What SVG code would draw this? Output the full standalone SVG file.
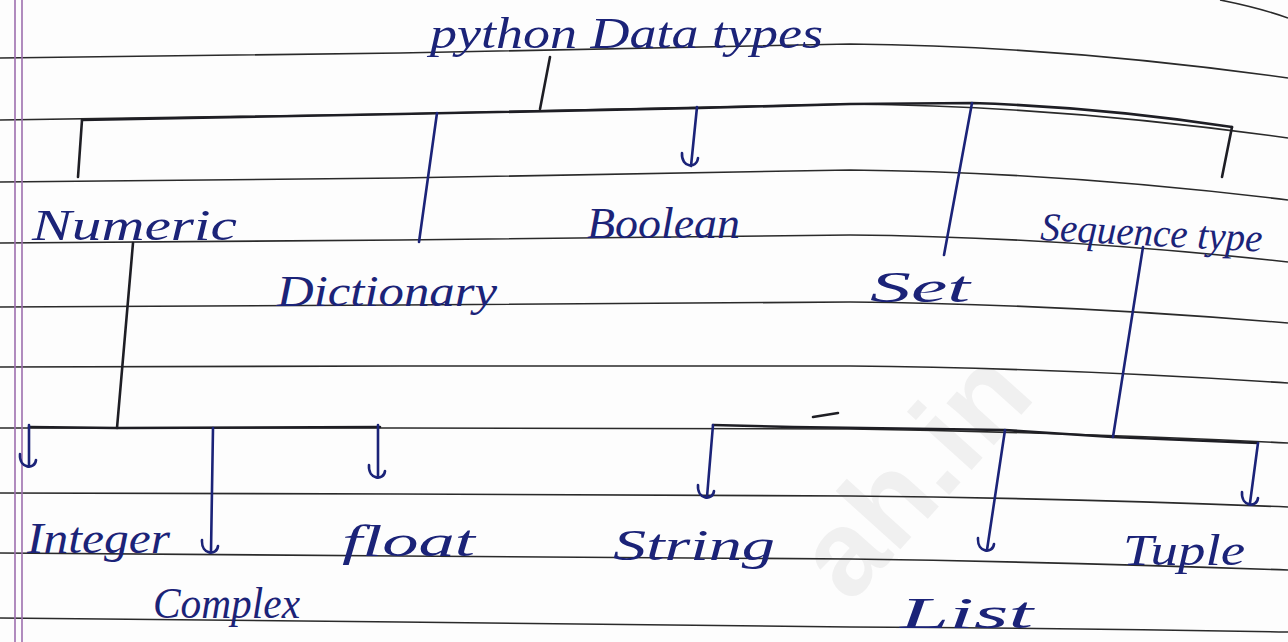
<svg xmlns="http://www.w3.org/2000/svg" width="1288" height="642" viewBox="0 0 1288 642">
<defs>
<style>
.rule{fill:none;stroke:#2a2a2a;stroke-width:1.6}
.margin{fill:none;stroke:#9d6fae;stroke-width:1.6}
.ink{fill:none;stroke:#1b2378;stroke-width:2.6;stroke-linecap:round;stroke-linejoin:round}
.blk{fill:none;stroke:#1e1e24;stroke-width:2.6;stroke-linecap:round;stroke-linejoin:round}
.lbl{font-family:"Liberation Serif",serif;font-style:italic;font-size:44px;fill:#1b2378}
.wm{font-family:"Liberation Sans",sans-serif;font-weight:bold;font-size:120px;fill:#f0f0f0}
</style>
</defs>
<rect width="1288" height="642" fill="#fdfdfd"/>
<text class="wm" transform="translate(850,605) rotate(-48)">ah.in</text>
<g id="paper">
<path class="rule" d="M0,58 L400,53 L850,44 Q1060,46 1288,78"/>
<path class="rule" d="M0,120 L400,114 L850,104 Q1060,106 1288,138"/>
<path class="rule" d="M0,182 L400,178 L850,170 Q1060,172 1288,200"/>
<path class="rule" d="M0,243 L400,240 L850,235 Q1060,237 1288,262"/>
<path class="rule" d="M0,307 L400,305 L850,302 Q1060,304 1288,323"/>
<path class="rule" d="M0,367 L400,366 L850,366 Q1060,368 1288,383"/>
<path class="rule" d="M0,428 L400,428 L850,429 Q1060,432 1288,443"/>
<path class="rule" d="M0,493 L400,494 L850,496 Q1060,498 1288,507"/>
<path class="rule" d="M0,553 L400,556 L850,559 Q1060,562 1288,570"/>
<path class="rule" d="M0,618 L400,622 L850,627 Q1060,628 1288,632"/>
<path class="rule" d="M1220,0 Q1260,8 1288,18"/>
<line class="margin" x1="15" y1="0" x2="15" y2="642"/>
<line class="margin" x1="22" y1="0" x2="22" y2="642"/>
</g>
<g id="connectors">
<path class="blk" d="M550,57 L540,109"/>
<path class="blk" d="M82,120 L400,114 L700,108 L850,104 L972,103 Q1100,107 1232,127"/>
<path class="blk" d="M82,120 L78,177"/>
<path class="ink" d="M437,113 L419,242"/>
<path class="ink" d="M697,107 L691,166 M682,153 C681,168 697,169 698,158"/>
<path class="ink" d="M972,103 L944,255"/>
<path class="blk" d="M1232,127 L1222,177"/>
<path class="blk" d="M133,243 L117,428"/>
<path class="blk" d="M29,427 L117,428 L380,427"/>
<path class="ink" d="M29,425 L29,466 M20,454 C19,469 35,470 36,460"/>
<path class="ink" d="M213,428 L211,552 M202,540 C201,555 217,556 218,546"/>
<path class="ink" d="M378,425 L378,477 M369,465 C368,480 384,481 385,471"/>
<path class="blk" d="M713,425 L793,427 L1005,430 L1112,437 L1258,443"/>
<path class="ink" d="M713,425 L707,497 M698,485 C697,500 713,501 714,491"/>
<path class="ink" d="M1143,247 L1113,437"/>
<path class="ink" d="M1005,430 L987,550 M978,538 C977,553 993,554 994,544"/>
<path class="ink" d="M1258,443 L1250,503 M1242,492 C1241,507 1257,508 1258,498"/>
<path class="blk" d="M813,417 L838,413"/>
</g>
<g id="node-root"><text class="lbl" x="430" y="48" textLength="393" lengthAdjust="spacingAndGlyphs">python Data types</text></g>
<g id="node-numeric"><text class="lbl" x="32" y="240" textLength="205" lengthAdjust="spacingAndGlyphs">Numeric</text></g>
<g id="node-dictionary"><text class="lbl" x="277" y="306" textLength="220" lengthAdjust="spacingAndGlyphs">Dictionary</text></g>
<g id="node-boolean"><text class="lbl" x="587" y="238" textLength="153" lengthAdjust="spacingAndGlyphs">Boolean</text></g>
<g id="node-set"><text class="lbl" x="870" y="302" textLength="100" lengthAdjust="spacingAndGlyphs">Set</text></g>
<g id="node-sequence"><text class="lbl" x="1040" y="240" style="font-size:40px" textLength="222" lengthAdjust="spacingAndGlyphs" transform="rotate(3 1040 240)">Sequence type</text></g>
<g id="node-integer"><text class="lbl" x="27" y="553" textLength="143" lengthAdjust="spacingAndGlyphs">Integer</text></g>
<g id="node-complex"><text class="lbl" x="153" y="618" textLength="147" lengthAdjust="spacingAndGlyphs">Complex</text></g>
<g id="node-float"><text class="lbl" x="342" y="556" textLength="133" lengthAdjust="spacingAndGlyphs">float</text></g>
<g id="node-string"><text class="lbl" x="613" y="560" textLength="162" lengthAdjust="spacingAndGlyphs">String</text></g>
<g id="node-list"><text class="lbl" x="900" y="628" textLength="133" lengthAdjust="spacingAndGlyphs">List</text></g>
<g id="node-tuple"><text class="lbl" x="1123" y="565" textLength="122" lengthAdjust="spacingAndGlyphs">Tuple</text></g>
</svg>
